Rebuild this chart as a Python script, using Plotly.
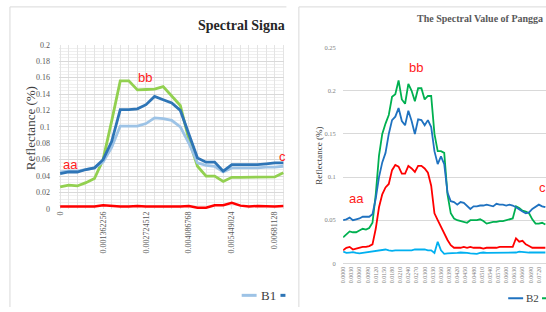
import plotly.graph_objects as go

W, H = 546, 312

# ---------------- Left chart data ----------------
left_idx = [0, 1, 2, 3, 4, 5, 6, 7, 8, 9, 10, 11, 12, 13, 14, 15, 16, 17, 18, 19, 20, 21, 22, 23, 24, 25, 26]
left_tick_pos = [0, 5, 10, 15, 20, 25]
left_tick_labels = ["0", "0.001362256", "0.002724512", "0.004086768", "0.005449024", "0.00681128"]
left_b1 = [0.045, 0.046, 0.046, 0.048, 0.050, 0.057, 0.075, 0.101, 0.101, 0.101, 0.104, 0.111, 0.110, 0.108, 0.100,
           0.080, 0.056, 0.053, 0.052, 0.045, 0.050, 0.050, 0.050, 0.050, 0.051, 0.051, 0.052]
left_b2 = [0.043, 0.045, 0.045, 0.048, 0.050, 0.060, 0.082, 0.121, 0.121, 0.122, 0.127, 0.137, 0.133, 0.129, 0.120,
           0.092, 0.062, 0.057, 0.057, 0.046, 0.054, 0.054, 0.054, 0.054, 0.055, 0.056, 0.056]
left_green = [0.027, 0.029, 0.028, 0.032, 0.037, 0.060, 0.107, 0.156, 0.156, 0.145, 0.1455, 0.146, 0.149, 0.137, 0.126,
              0.084, 0.052, 0.040, 0.040, 0.0335, 0.0385, 0.0385, 0.0385, 0.0385, 0.0385, 0.039, 0.044]
left_red = [0.003, 0.003, 0.0028, 0.003, 0.003, 0.0045, 0.0035, 0.003, 0.003, 0.0035, 0.003, 0.003, 0.003, 0.0025, 0.003,
            0.0035, 0.0015, 0.0015, 0.0045, 0.0045, 0.0075, 0.004, 0.003, 0.0035, 0.003, 0.003, 0.0035]

# ---------------- Right chart data ----------------
right_x = [0.0000, 0.0012, 0.0024, 0.0036, 0.0048, 0.0060, 0.0072, 0.0084, 0.0096, 0.0108,
           0.0120, 0.0132, 0.0144, 0.0156, 0.0168, 0.0180, 0.0192, 0.0204, 0.0216, 0.0228,
           0.0240, 0.0252, 0.0264, 0.0276, 0.0288, 0.0300, 0.0312, 0.0324, 0.0336, 0.0348,
           0.0360, 0.0372, 0.0384, 0.0396, 0.0408, 0.0420, 0.0432, 0.0444, 0.0456, 0.0468,
           0.0480, 0.0492, 0.0504, 0.0516, 0.0528, 0.0540, 0.0552, 0.0564, 0.0576, 0.0588,
           0.0600, 0.0612, 0.0624, 0.0636, 0.0648, 0.0660, 0.0672, 0.0684, 0.0696, 0.0708,
           0.0720, 0.0732, 0.0744]
right_b2 = [0.050, 0.051, 0.053, 0.050, 0.051, 0.052, 0.054, 0.054, 0.054, 0.057,
            0.075, 0.100, 0.117, 0.128, 0.150, 0.166, 0.170, 0.180, 0.165, 0.160,
            0.177, 0.165, 0.150, 0.167, 0.166, 0.160, 0.166, 0.158, 0.130, 0.115,
            0.124, 0.115, 0.082, 0.072, 0.071, 0.068, 0.071, 0.070, 0.066, 0.063,
            0.066, 0.066, 0.067, 0.067, 0.068, 0.067, 0.066, 0.069, 0.068, 0.068,
            0.067, 0.068, 0.067, 0.065, 0.062, 0.060, 0.058, 0.059, 0.063, 0.066,
            0.068, 0.066, 0.065]
right_green = [0.030, 0.033, 0.037, 0.036, 0.036, 0.038, 0.040, 0.039, 0.041, 0.047,
               0.080, 0.125, 0.150, 0.162, 0.172, 0.193, 0.196, 0.212, 0.190, 0.185,
               0.208, 0.200, 0.188, 0.203, 0.203, 0.190, 0.194, 0.194, 0.150, 0.130,
               0.130, 0.128, 0.080, 0.058, 0.052, 0.050, 0.049, 0.048, 0.047, 0.050,
               0.050, 0.050, 0.051, 0.049, 0.046, 0.047, 0.048, 0.048, 0.049, 0.049,
               0.050, 0.051, 0.052, 0.066, 0.064, 0.061, 0.060, 0.058, 0.051, 0.046,
               0.046, 0.047, 0.045]
right_red = [0.015, 0.018, 0.019, 0.016, 0.017, 0.018, 0.019, 0.019, 0.020, 0.022,
             0.040, 0.065, 0.080, 0.088, 0.092, 0.108, 0.114, 0.112, 0.104, 0.104,
             0.113, 0.110, 0.106, 0.113, 0.113, 0.110, 0.105, 0.090, 0.058, 0.050,
             0.042, 0.035, 0.027, 0.021, 0.018, 0.018, 0.018, 0.019, 0.018, 0.019,
             0.018, 0.018, 0.018, 0.017, 0.018, 0.018, 0.018, 0.018, 0.019, 0.019,
             0.019, 0.019, 0.019, 0.029, 0.025, 0.026, 0.022, 0.020, 0.018, 0.018,
             0.018, 0.018, 0.018]
right_cyan = [0.0135, 0.012, 0.0125, 0.013, 0.012, 0.0115, 0.012, 0.0125, 0.013, 0.0135,
              0.014, 0.0145, 0.015, 0.016, 0.015, 0.0145, 0.015, 0.015, 0.015, 0.015,
              0.015, 0.015, 0.016, 0.016, 0.016, 0.016, 0.015, 0.015, 0.012, 0.025,
              0.015, 0.011, 0.0115, 0.0115, 0.012, 0.012, 0.0125, 0.0125, 0.012, 0.0115,
              0.011, 0.011, 0.012, 0.0125, 0.012, 0.012, 0.0125, 0.0125, 0.0125, 0.0125,
              0.0125, 0.012, 0.0125, 0.0125, 0.0135, 0.013, 0.0125, 0.0125, 0.0125, 0.0125,
              0.0125, 0.0125, 0.0125]
right_tick_vals = [0.000, 0.003, 0.006, 0.009, 0.012, 0.015, 0.018, 0.021, 0.024, 0.027, 0.030, 0.033,
                   0.036, 0.039, 0.042, 0.045, 0.048, 0.051, 0.054, 0.057, 0.060, 0.063, 0.066, 0.069, 0.072]
right_tick_labels = ["0.0000", "0.0030", "0.0060", "0.0090", "0.0120", "0.0150", "0.0180", "0.0210",
                     "0.0240", "0.0270", "0.0300", "0.0330", "0.0360", "0.0390", "0.0420", "0.0450",
                     "0.0480", "0.0510", "0.0540", "0.0570", "0.0600", "0.0630", "0.0660", "0.0690", "0.0720"]


def px(x):
    return x / W


def py(y):
    return 1 - y / H


SERIF = "Liberation Serif"
fig = go.Figure()

# left traces
for ys, col, w in [(left_red, "#FF0000", 2.5), (left_green, "#92D050", 2.8),
                   (left_b1, "#9DC3E6", 2.8), (left_b2, "#2E75B6", 2.8)]:
    fig.add_trace(go.Scatter(x=left_idx, y=ys, mode="lines", line=dict(color=col, width=w),
                             xaxis="x", yaxis="y", showlegend=False, hoverinfo="skip"))

# right traces
for ys, col in [(right_cyan, "#00B0F0"), (right_red, "#FF0000"),
                (right_green, "#00B050"), (right_b2, "#1F72C0")]:
    fig.add_trace(go.Scatter(x=right_x, y=ys, mode="lines", line=dict(color=col, width=1.8),
                             xaxis="x2", yaxis="y2", showlegend=False, hoverinfo="skip"))

left_ticktext = [left_tick_labels[left_tick_pos.index(i)] if i in left_tick_pos else "" for i in left_idx]

fig.update_layout(
    width=W, height=H, margin=dict(l=0, r=0, t=0, b=0),
    paper_bgcolor="white", plot_bgcolor="white",
    xaxis=dict(domain=[px(56), px(283)], range=[-0.17, 26.13], tickmode="array",
               tickvals=left_idx, ticktext=left_ticktext, tickangle=-90,
               showgrid=True, gridcolor="#e4e4e4", gridwidth=1, zeroline=False,
               showline=False, ticks="", tickfont=dict(family=SERIF, size=8, color="#595959"),
               anchor="y"),
    yaxis=dict(domain=[py(211), py(42)], range=[0, 0.2], dtick=0.02, tickformat="~g",
               showgrid=True, gridcolor="#d9d9d9", zeroline=False, showline=False,
               ticks="outside", ticklen=6, tickcolor="rgba(0,0,0,0)",
               minor=dict(dtick=0.004, showgrid=True, gridcolor="#efefef"),
               tickfont=dict(family=SERIF, size=8, color="#595959"), anchor="x"),
    xaxis2=dict(domain=[px(342), 1], range=[0, 0.07464], tickmode="array",
                tickvals=right_tick_vals, ticktext=right_tick_labels, tickangle=-90,
                showgrid=False, zeroline=False, showline=True, linecolor="#d9d9d9",
                ticks="", tickfont=dict(family=SERIF, size=6, color="#7f7f7f"), anchor="y2"),
    yaxis2=dict(domain=[py(267), py(45)], range=[0, 0.25], dtick=0.05, tickformat="~g",
                showgrid=True, gridcolor="#d9d9d9", zeroline=False, showline=False,
                ticks="outside", ticklen=5, tickcolor="rgba(0,0,0,0)",
                tickfont=dict(family=SERIF, size=6.5, color="#7f7f7f"), anchor="x2"),
)

shapes = [
    # panel borders
    dict(type="line", xref="paper", yref="paper", x0=px(7), x1=px(7), y0=py(3), y1=py(312),
         line=dict(color="#d9d9d9", width=1)),
    dict(type="line", xref="paper", yref="paper", x0=px(7), x1=px(285), y0=py(3), y1=py(3),
         line=dict(color="#d9d9d9", width=1)),
    dict(type="line", xref="paper", yref="paper", x0=px(297.5), x1=px(297.5), y0=py(3), y1=py(312),
         line=dict(color="#d9d9d9", width=1)),
    dict(type="line", xref="paper", yref="paper", x0=px(297.5), x1=1, y0=py(3), y1=py(3),
         line=dict(color="#d9d9d9", width=1)),
    # left legend samples
    dict(type="line", xref="paper", yref="paper", x0=px(240), x1=px(255), y0=py(300), y1=py(300),
         line=dict(color="#9DC3E6", width=3)),
    dict(type="line", xref="paper", yref="paper", x0=px(279), x1=px(284), y0=py(300), y1=py(300),
         line=dict(color="#2E75B6", width=3)),
    # right legend samples
    dict(type="line", xref="paper", yref="paper", x0=px(508), x1=px(523), y0=py(303), y1=py(303),
         line=dict(color="#1F72C0", width=2)),
    dict(type="line", xref="paper", yref="paper", x0=px(542), x1=px(550), y0=py(303), y1=py(303),
         line=dict(color="#00B050", width=2)),
]
fig.update_layout(shapes=shapes)

RED = "#FF2020"
ann = [
    dict(text="<b>Spectral Signa</b>", x=px(194), y=py(22), xanchor="left", yanchor="middle",
         font=dict(family=SERIF, size=14, color="#262626")),
    dict(text="Reflectance (%)", x=px(27), y=py(128), textangle=-90, xanchor="center", yanchor="middle",
         font=dict(family=SERIF, size=13, color="#404040")),
    dict(text="aa", x=px(68), y=py(165), xanchor="center", yanchor="middle",
         font=dict(family="Liberation Sans", size=13, color=RED)),
    dict(text="bb", x=px(143), y=py(76), xanchor="center", yanchor="middle",
         font=dict(family="Liberation Sans", size=13, color=RED)),
    dict(text="c", x=px(276), y=py(157), xanchor="left", yanchor="middle",
         font=dict(family="Liberation Sans", size=13, color=RED)),
    dict(text="B1", x=px(257), y=py(300), xanchor="left", yanchor="middle",
         font=dict(family=SERIF, size=13, color="#404040")),
    dict(text="<b>The Spectral Value of Pangga</b>", x=px(414), y=py(15), xanchor="left", yanchor="middle",
         font=dict(family=SERIF, size=10, color="#595959")),
    dict(text="Reflectance (%)", x=px(317), y=py(156), textangle=-90, xanchor="center", yanchor="middle",
         font=dict(family=SERIF, size=9, color="#404040")),
    dict(text="aa", x=px(355), y=py(200), xanchor="center", yanchor="middle",
         font=dict(family="Liberation Sans", size=13, color=RED)),
    dict(text="bb", x=px(415), y=py(65), xanchor="center", yanchor="middle",
         font=dict(family="Liberation Sans", size=13, color=RED)),
    dict(text="c", x=px(537), y=py(189), xanchor="left", yanchor="middle",
         font=dict(family="Liberation Sans", size=13, color=RED)),
    dict(text="B2", x=px(524), y=py(303), xanchor="left", yanchor="middle",
         font=dict(family=SERIF, size=11, color="#404040")),
]
for a in ann:
    a.update(xref="paper", yref="paper", showarrow=False)
fig.update_layout(annotations=ann)

fig.write_html("out.html", config={"displayModeBar": False},
               post_script="document.body.style.margin='0';")
